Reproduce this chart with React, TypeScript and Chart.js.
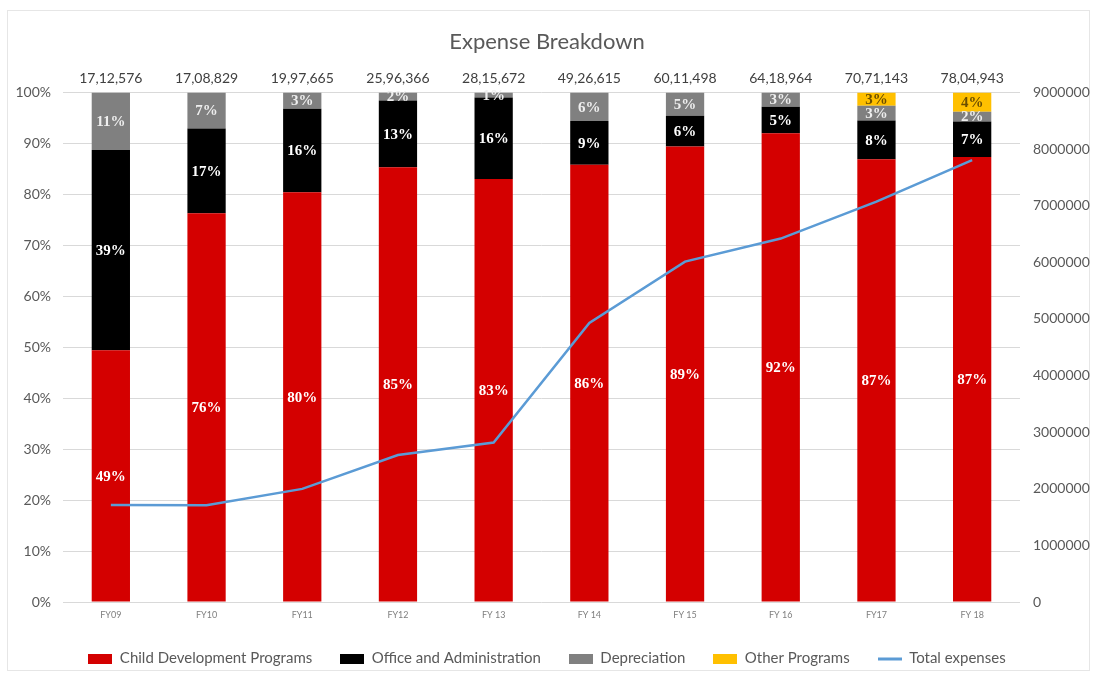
import { useEffect, useRef } from "react";
import { Chart, registerables } from "chart.js";

Chart.register(...registerables);

const categories = ["FY09", "FY10", "FY11", "FY12", "FY 13", "FY 14", "FY 15", "FY 16", "FY17", "FY 18"];
const childDevelopment = [49.4, 76.3, 80.4, 85.3, 83.0, 85.8, 89.4, 92.0, 86.9, 87.3];
const officeAdmin = [39.3, 16.6, 16.4, 13.1, 16.0, 8.6, 6.0, 5.2, 7.6, 7.0];
const depreciation = [11.3, 7.1, 3.2, 1.6, 1.0, 5.6, 4.6, 2.8, 2.9, 1.9];
const otherPrograms = [0, 0, 0, 0, 0, 0, 0, 0, 2.6, 3.8];
const totalExpenses = [1712576, 1708829, 1997665, 2596366, 2815672, 4926615, 6011498, 6418964, 7071143, 7804943];

const seriesNames = ["Child Development Programs", "Office and Administration", "Depreciation", "Other Programs", "Total expenses"];
const seriesColors = ["#d40000", "#000000", "#808080", "#ffc000", "#5b9bd5"];
const labelColors = ["#ffffff", "#ffffff", "#eeeeee", "#6b4e00"];

const SANS = "Lato, 'Liberation Sans', sans-serif";

function formatIndian(n: number): string {
  const s = String(Math.round(n));
  if (s.length <= 3) return s;
  const last3 = s.slice(-3);
  const rest = s.slice(0, -3).replace(/\B(?=(\d{2})+(?!\d))/g, ",");
  return rest + "," + last3;
}

function makeBoxImage(color: string, isLine: boolean): HTMLCanvasElement {
  const c = document.createElement("canvas");
  c.width = 24;
  c.height = 10;
  const g = c.getContext("2d")!;
  g.fillStyle = color;
  if (isLine) g.fillRect(0, 4, 24, 3);
  else g.fillRect(0, 0, 24, 10);
  return c;
}

const frameAndLabels = {
  id: "frameAndLabels",
  beforeDraw(chart: any) {
    const ctx = chart.ctx;
    ctx.save();
    ctx.fillStyle = "#ffffff";
    ctx.fillRect(0, 0, chart.width, chart.height);
    ctx.strokeStyle = "#e6e6e6";
    ctx.lineWidth = 1;
    ctx.strokeRect(7.5, 10.5, 1082, 660);
    ctx.restore();
  },
  afterDatasetsDraw(chart: any) {
    const ctx = chart.ctx;
    ctx.save();
    ctx.textAlign = "center";
    ctx.textBaseline = "middle";
    for (let d = 0; d < 4; d++) {
      const meta = chart.getDatasetMeta(d);
      const values = chart.data.datasets[d].data as number[];
      ctx.fillStyle = labelColors[d];
      ctx.font = "bold 15px 'Liberation Serif', serif";
      meta.data.forEach((el: any, i: number) => {
        const v = values[i];
        if (!v) return;
        const p = el.getProps(["x", "y", "base"], true);
        ctx.fillText(Math.round(v) + "%", p.x, (p.y + p.base) / 2 + 1);
      });
    }
    const meta0 = chart.getDatasetMeta(0);
    ctx.fillStyle = "#404040";
    ctx.font = "14px " + SANS;
    meta0.data.forEach((el: any, i: number) => {
      ctx.fillText(formatIndian(totalExpenses[i]), el.x, chart.chartArea.top - 14);
    });
    ctx.restore();
  },
};

export default function App() {
  const ref = useRef<HTMLCanvasElement | null>(null);

  useEffect(() => {
    if (!ref.current) return;
    const images = seriesColors.map((c, i) => makeBoxImage(c, i === 4));
    const barSets = [childDevelopment, officeAdmin, depreciation, otherPrograms].map((data, i) => ({
      type: "bar" as const,
      label: seriesNames[i],
      data,
      backgroundColor: seriesColors[i],
      borderWidth: 0,
      yAxisID: "y",
      stack: "s",
      order: 1,
      barPercentage: 0.4,
      categoryPercentage: 1,
    }));
    const chart = new Chart(ref.current, {
      type: "bar",
      data: {
        labels: categories,
        datasets: [
          ...barSets,
          {
            type: "line" as const,
            label: seriesNames[4],
            data: totalExpenses,
            borderColor: seriesColors[4],
            backgroundColor: seriesColors[4],
            borderWidth: 2.5,
            pointRadius: 0,
            tension: 0,
            yAxisID: "y2",
            order: 0,
          } as any,
        ],
      },
      options: {
        responsive: false,
        animation: false,
        layout: { padding: { left: 0, right: 0, top: 0, bottom: 0 } },
        plugins: {
          tooltip: { enabled: false },
          title: {
            display: true,
            text: "Expense Breakdown",
            color: "#595959",
            font: { family: SANS, size: 22, weight: "normal" },
            padding: { top: 29, bottom: 37 },
          },
          legend: {
            position: "bottom",
            labels: {
              usePointStyle: true,
              pointStyleWidth: 24,
              boxHeight: 10,
              padding: 28,
              color: "#595959",
              font: { family: SANS, size: 15 },
              sort: (a: any, b: any) => a.datasetIndex - b.datasetIndex,
              generateLabels: (chart: any) => {
                const items = Chart.defaults.plugins.legend.labels.generateLabels(chart);
                return items.map((it: any) => ({ ...it, pointStyle: images[it.datasetIndex] }));
              },
            },
          },
        },
        scales: {
          x: {
            stacked: true,
            grid: { display: false, drawTicks: false },
            border: { display: false },
            ticks: { color: "#7f7f7f", font: { family: SANS, size: 9 }, padding: 8, maxRotation: 0 },
            afterFit: (s: any) => { s.height = 21; },
          },
          y: {
            stacked: true,
            position: "left",
            min: 0,
            max: 100,
            ticks: {
              stepSize: 10,
              color: "#595959",
              font: { family: SANS, size: 14 },
              padding: 12,
              callback: (v: any) => v + "%",
            },
            grid: { color: "#d9d9d9", drawTicks: false },
            border: { display: false },
            afterFit: (s: any) => { s.width = 63; },
          },
          y2: {
            position: "right",
            min: 0,
            max: 9000000,
            ticks: {
              stepSize: 1000000,
              color: "#595959",
              font: { family: SANS, size: 14 },
              padding: 13,
              callback: (v: any) => String(v),
            },
            grid: { display: false, drawTicks: false },
            border: { display: false },
            afterFit: (s: any) => { s.width = 74; },
          },
        },
      } as any,
      plugins: [frameAndLabels],
    });
    return () => chart.destroy();
  }, []);

  return (
    <div style={{ position: "absolute", left: 0, top: 0, width: 1094, height: 676, background: "#fff" }}>
      <canvas ref={ref} width={1094} height={676} style={{ display: "block", width: 1094, height: 676 }} />
    </div>
  );
}
